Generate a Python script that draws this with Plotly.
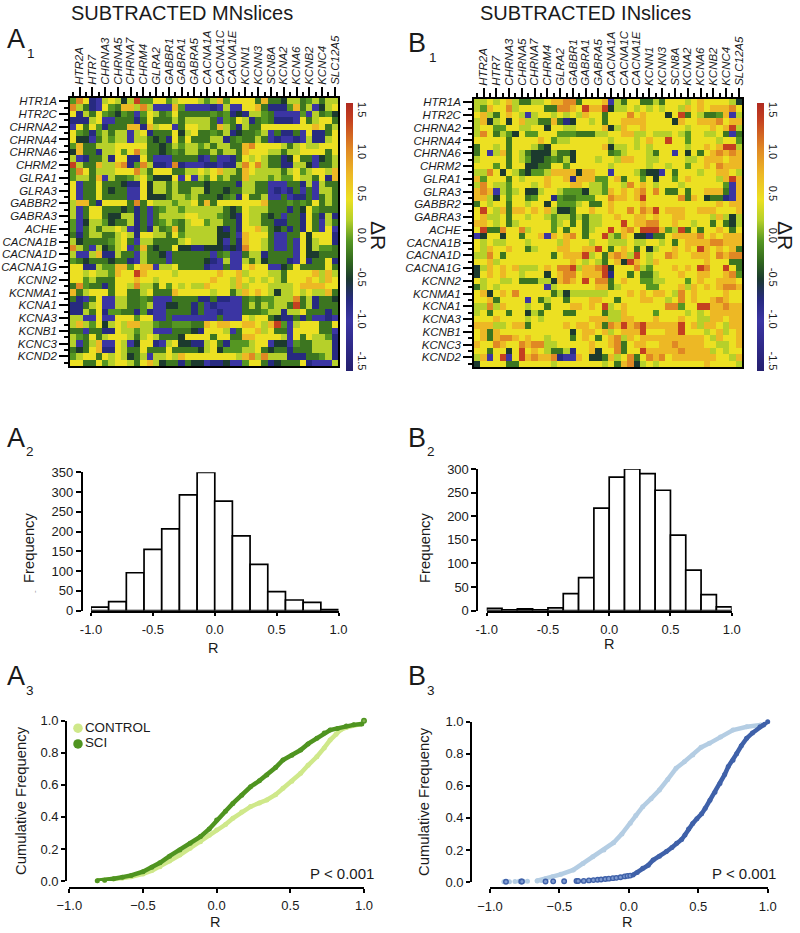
import plotly.graph_objects as go

W, H = 800, 933
FONT = "Liberation Sans"
INK = "#1a1a1a"

GENES = ["HTR1A","HTR2A","HTR2C","HTR7","CHRNA2","CHRNA3","CHRNA4","CHRNA5","CHRNA6","CHRNA7",
         "CHRM2","CHRM4","GLRA1","GLRA2","GLRA3","GABBR1","GABBR2","GABRA1","GABRA3","GABRA5",
         "ACHE","CACNA1A","CACNA1B","CACNA1C","CACNA1D","CACNA1E","CACNA1G","KCNN1","KCNN2","KCNN3",
         "KCNMA1","SCN8A","KCNA1","KCNA2","KCNA3","KCNA6","KCNB1","KCNB2","KCNC3","KCNC4","KCND2","SLC12A5"]

# Delta-R value represented by each digit in the rows below
LEVEL_R = [-1.0, -0.75, -0.5, -0.22, -0.05, 0.2, 0.45, 0.75, 1.05, 1.4]

A1_ROWS = [
"486105 652594 466456 665457 466663 733255 345355",
"853106 437758 500074 000010 500667 311147 350256",
"615364 324304 653463 333343 412155 430000 405342",
"111560 033313 633353 555530 436513 431110 635663",
"063641 333771 756603 665537 531533 666666 667635",
"643145 355056 133362 563343 512334 503113 061136",
"622035 455055 323163 633355 134335 301001 051156",
"473355 566666 332354 554535 533786 666535 655666",
"273315 564685 332343 553353 553766 655355 666636",
"501335 166116 300033 331030 013656 533126 330235",
"953375 578148 511081 000110 115868 533115 520335",
"486355 566685 366633 556567 553765 555356 456657",
"455370 533456 422260 605464 533755 545446 553617",
"603363 332116 255353 333233 331553 300033 150533",
"603363 233006 255353 355233 233553 301013 030553",
"603363 333006 222355 453332 341633 500301 130353",
"577316 666383 655545 563736 666666 733343 436353",
"503663 332313 034554 555555 323655 533313 264333",
"503663 225513 035555 665554 321655 323033 163151",
"402554 233513 034543 566455 331655 331133 163053",
"403535 565013 153473 555552 131667 532313 163060",
"313553 356516 655364 555552 230766 630033 626661",
"523333 456305 533335 655552 031766 530030 625661",
"853052 356037 323362 211222 121866 530030 625443",
"500571 153305 332033 333303 400355 133330 622333",
"432333 233105 333033 333210 500535 233310 613361",
"661154 477467 705563 333100 300676 600236 333363",
"665655 476697 666656 666667 667566 655366 667575",
"664533 366676 656666 666676 657656 565366 676576",
"384331 366585 536465 655766 657566 655556 777766",
"735666 366335 633376 666656 635767 652556 565573",
"310360 055334 300033 331131 100343 445558 351332",
"113560 055334 500223 313010 000353 545539 351333",
"115361 443314 100333 313001 000333 455155 633313",
"550060 066646 600300 000003 000656 632113 130010",
"575462 565775 543344 433767 766776 579405 666336",
"330331 165545 500033 321666 503667 563306 666330",
"543635 666535 653332 666636 633776 666506 365541",
"503570 065026 610562 211563 144456 602204 335551",
"323671 165336 333633 332562 444556 323313 335551",
"456636 565235 055657 666666 665785 855511 133451",
"663364 566536 752331 322011 200466 312333 610005",
]

B1_ROWS = [
"556567 533556 778836 667053 663353 666567 666652",
"547668 566663 388769 779255 656565 665767 677786",
"675367 650566 565657 663666 867666 269365 334705",
"572562 675533 731266 563667 777666 627667 778677",
"566446 655662 665566 667257 667666 666566 676795",
"586354 264466 644433 355667 755655 565466 556303",
"666663 666676 455666 666566 656766 966466 665664",
"366563 666532 666666 667255 656566 666566 767995",
"360573 653222 533266 666345 666536 606263 678787",
"566663 654223 435266 656657 766556 666556 777677",
"666463 662233 664666 666566 666566 566466 768777",
"558626 532445 777727 766066 653220 636665 667765",
"746663 656667 667177 744673 664626 646766 665797",
"586554 666567 666776 554665 867656 665666 666407",
"787054 562256 654442 554767 678686 336366 777307",
"775264 663466 143344 466877 679666 668376 233107",
"365663 665662 644456 336766 667666 666666 667677",
"696573 776767 522366 766766 868796 777667 776667",
"675563 665665 455353 556676 677676 677666 657525",
"776563 566666 456363 556669 677886 676656 636325",
"693386 685666 463663 566967 869997 459363 667636",
"026626 636670 767863 669547 622133 677778 676777",
"656556 665666 657666 566555 655665 636777 788777",
"657667 663566 677667 796367 636256 676769 767673",
"558636 666666 367779 563787 596566 876677 768788",
"667566 666666 666765 653672 976576 666666 766633",
"257676 755567 688957 789266 685466 676769 866963",
"267676 656662 678867 779166 363356 667667 766784",
"656655 633355 278769 688367 664455 666467 667776",
"356566 666660 566666 677356 666446 667576 767887",
"672676 866666 352555 555666 767677 658676 666766",
"667366 660635 663666 776636 667766 568676 678766",
"558576 665663 666776 769567 666666 884669 977877",
"563663 662536 663366 663557 666646 666565 677777",
"666766 665656 666666 777557 766676 667665 577677",
"777556 773666 667677 673879 789777 779675 776577",
"673766 666666 666267 767567 779666 779666 567567",
"673788 767665 666367 636785 767777 777777 657667",
"766876 687885 566666 766783 677667 787777 665567",
"663662 696765 335166 726683 669777 778777 756566",
"570690 697877 810076 223756 836878 677777 776657",
"266663 366666 566666 665637 825656 666666 766665",
]

CBAR_TICKS = [-1.5, -1.0, -0.5, 0.0, 0.5, 1.0, 1.5]
CBAR_LABELS = ["-1.5", "-1.0", "-0.5", "0.0", "0.5", "1.0", "1.5"]

A2_CENTERS = [-0.929,-0.786,-0.643,-0.5,-0.357,-0.214,-0.071,0.071,0.214,0.357,0.5,0.643,0.786,0.929]
A2_COUNTS = [9,23,96,155,207,293,350,277,189,117,48,27,21,3]
B2_CENTERS = [-0.9375,-0.8125,-0.6875,-0.5625,-0.4375,-0.3125,-0.1875,-0.0625,0.0625,0.1875,0.3125,0.4375,0.5625,0.6875,0.8125,0.9375]
B2_COUNTS = [5,2,4,2,6,36,70,217,283,300,290,255,160,86,34,8]

A3_CTRL_R = [-0.81,-0.76,-0.70,-0.64,-0.58,-0.50,-0.44,-0.385,-0.32,-0.25,-0.18,-0.11,-0.05,0.0,0.06,0.11,0.17,0.23,0.29,0.34,0.40,0.45,0.51,0.57,0.62,0.68,0.73,0.77,0.81,0.84,0.88,0.93,0.97]
A3_CTRL_F = [0.002,0.005,0.012,0.018,0.027,0.044,0.065,0.089,0.125,0.162,0.205,0.245,0.285,0.318,0.352,0.391,0.43,0.464,0.487,0.505,0.538,0.578,0.622,0.672,0.722,0.775,0.83,0.879,0.915,0.942,0.958,0.973,0.978]
A3_SCI_R = [-0.81,-0.76,-0.70,-0.64,-0.58,-0.50,-0.44,-0.385,-0.32,-0.25,-0.18,-0.11,-0.05,0.0,0.06,0.11,0.17,0.23,0.29,0.34,0.40,0.45,0.51,0.57,0.62,0.68,0.73,0.77,0.82,0.88,0.93,0.985]
A3_SCI_F = [0.002,0.005,0.014,0.024,0.035,0.058,0.085,0.114,0.155,0.193,0.235,0.277,0.325,0.38,0.435,0.484,0.535,0.588,0.625,0.661,0.708,0.755,0.785,0.817,0.855,0.89,0.923,0.942,0.952,0.967,0.974,0.979]
A3_SCI_END_R = [1.0]
A3_SCI_END_F = [1.0]

B3_CTRL_TAIL_R = [-0.90,-0.86,-0.82,-0.79,-0.76,-0.73,-0.66,-0.63]
B3_CTRL_TAIL_F = [0.002,0.002,0.003,0.004,0.004,0.005,0.007,0.009]
B3_CTRL_R = [-0.66,-0.60,-0.55,-0.49,-0.40,-0.33,-0.26,-0.18,-0.11,-0.05,0.01,0.05,0.10,0.16,0.22,0.28,0.34,0.40,0.46,0.52,0.58,0.66,0.75,0.85,0.95]
B3_CTRL_F = [0.008,0.02,0.033,0.048,0.075,0.115,0.158,0.2,0.245,0.3,0.366,0.415,0.47,0.52,0.574,0.64,0.709,0.75,0.792,0.84,0.865,0.905,0.948,0.968,0.98]
B3_SCI_TAIL_R = [-0.885,-0.775,-0.77,-0.60,-0.545,-0.466,-0.377,-0.365,-0.325,-0.288,-0.255,-0.225,-0.20,-0.17,-0.145,-0.115,-0.09,-0.06,-0.03,-0.01,0.01]
B3_SCI_TAIL_F = [0.002,0.003,0.003,0.003,0.004,0.005,0.006,0.006,0.007,0.01,0.012,0.014,0.016,0.019,0.021,0.024,0.026,0.03,0.035,0.038,0.04]
B3_SCI_R = [0.03,0.06,0.10,0.14,0.175,0.22,0.27,0.31,0.344,0.38,0.404,0.43,0.46,0.49,0.524,0.55,0.584,0.62,0.656,0.69,0.716,0.75,0.776,0.81,0.848,0.89,0.945,0.97,1.0]
B3_SCI_F = [0.044,0.06,0.085,0.105,0.137,0.16,0.19,0.215,0.241,0.265,0.293,0.33,0.365,0.395,0.425,0.46,0.51,0.56,0.615,0.67,0.72,0.76,0.80,0.85,0.896,0.93,0.969,0.98,1.0]

COLORSCALE_STOPS = [(-1.6,"#241f6e"),(-1.0,"#3b35a3"),(-0.75,"#272a80"),(-0.5,"#1c3a2e"),(-0.3,"#30661f"),
                    (-0.05,"#559622"),(0.2,"#b6d02a"),(0.45,"#ece022"),(0.75,"#edb825"),(1.05,"#e08824"),
                    (1.4,"#c44020"),(1.6,"#b02a20")]
COLORSCALE = [[(v + 1.6) / 3.2, c] for v, c in COLORSCALE_STOPS]


def decode(rows):
    out = []
    for r in rows:
        r = r.replace(" ", "")
        assert len(r) == 42, r
        out.append([LEVEL_R[int(ch)] for ch in r])
    return out


def fx(px):
    return px / W


def fy(px):
    return 1 - px / H


fig = go.Figure()
annotations = []


def note(text, x, y, size, angle=0, xanchor="center", color=INK):
    annotations.append(dict(text=text, x=fx(x), y=fy(y), xref="paper", yref="paper", showarrow=False,
                            xanchor=xanchor, yanchor="middle", textangle=angle,
                            font=dict(family=FONT, size=size, color=color)))


def heatmap(rows, n, box, bar_x):
    x0, x1, y0, y1 = box
    fig.add_trace(go.Heatmap(z=decode(rows), x=list(range(42)), y=list(range(42)), zmin=-1.6, zmax=1.6,
                             colorscale=COLORSCALE, xaxis=f"x{n}", yaxis=f"y{n}", hoverongaps=False,
                             colorbar=dict(x=fx(bar_x), xanchor="left", y=fy(103), yanchor="top", len=268,
                                           lenmode="pixels", thickness=7, thicknessmode="pixels", xpad=0, ypad=0,
                                           outlinewidth=0, tickvals=CBAR_TICKS, ticktext=CBAR_LABELS, tickangle=90,
                                           ticks="", ticklen=0,
                                           tickfont=dict(family=FONT, size=11, color=INK))))
    common = dict(ticks="outside", ticklen=9, tickwidth=1.5, tickcolor="#000", showline=True, linecolor="#000",
                  linewidth=1.7, mirror=True, showgrid=False, zeroline=False)
    xvals = list(range(1, 42, 2))
    yvals = list(range(0, 42, 2))
    fig.layout[f"xaxis{n}"] = dict(domain=[fx(x0), fx(x1)], anchor=f"y{n}", side="top", range=[-0.5, 41.5],
                                   tickvals=xvals, ticktext=[GENES[i] for i in xvals], tickangle=-90,
                                   tickfont=dict(family=FONT, size=11.5, color=INK, style="italic"),
                                   minor=dict(tickvals=yvals, ticks="outside", ticklen=4, tickwidth=1.5, tickcolor="#000"),
                                   **common)
    fig.layout[f"yaxis{n}"] = dict(domain=[fy(y1), fy(y0)], anchor=f"x{n}", range=[41.5, -0.5],
                                   tickvals=yvals, ticktext=[GENES[i] for i in yvals],
                                   tickfont=dict(family=FONT, size=11.5, color=INK, style="italic"),
                                   minor=dict(tickvals=xvals, ticks="outside", ticklen=4, tickwidth=1.5, tickcolor="#000"),
                                   **common)


def hist_axes(n, box, y_axis_px, ymax):
    x0, x1, y0, y1 = box
    fig.layout[f"xaxis{n}"] = dict(domain=[fx(x0), fx(x1)], anchor=f"y{n}", range=[-1, 1],
                                   tickvals=[-1, -0.5, 0, 0.5, 1], ticktext=["-1.0", "-0.5", "0.0", "0.5", "1.0"],
                                   ticks="outside", ticklen=3, tickwidth=1.5, tickcolor="#000", showline=True,
                                   linecolor="#000", linewidth=1.7, showgrid=False, zeroline=False,
                                   ticklabelstandoff=3, tickfont=dict(family=FONT, size=13, color=INK))
    fig.layout[f"yaxis{n}"] = dict(domain=[fy(y1), fy(y0)], anchor="free", overlaying=None, position=fx(y_axis_px),
                                   range=[0, ymax], tick0=0, dtick=50, ticks="outside", ticklen=5, tickwidth=1.5,
                                   tickcolor="#000", showline=True, linecolor="#000", linewidth=1.7, showgrid=False,
                                   zeroline=False, tickfont=dict(family=FONT, size=13, color=INK))


def cdf_axes(n, box, y_axis_px, x_axis_py):
    x0, x1, y0, y1 = box
    fig.layout[f"xaxis{n}"] = dict(domain=[fx(x0), fx(x1)], anchor="free", position=fy(x_axis_py), range=[-1, 1],
                                   tickvals=[-1, -0.5, 0, 0.5, 1],
                                   ticktext=["\u22121.0", "\u22120.5", "0.0", "0.5", "1.0"],
                                   ticks="outside", ticklen=4, tickwidth=1.5, tickcolor="#000", showline=True,
                                   linecolor="#000", linewidth=1.7, showgrid=False, zeroline=False,
                                   ticklabelstandoff=2, tickfont=dict(family=FONT, size=13, color=INK))
    fig.layout[f"yaxis{n}"] = dict(domain=[fy(y1), fy(y0)], anchor="free", position=fx(y_axis_px), range=[0, 1],
                                   tick0=0, dtick=0.2, tickformat=".1f", ticks="outside", ticklen=4, tickwidth=1.5,
                                   tickcolor="#000", showline=True, linecolor="#000", linewidth=1.7, showgrid=False,
                                   zeroline=False, tickfont=dict(family=FONT, size=13, color=INK))


def curve(n, xs, ys, color, name, lines=True, ring=None):
    fig.add_trace(go.Scatter(x=xs, y=ys, name=name, xaxis=f"x{n}", yaxis=f"y{n}", showlegend=False, cliponaxis=False,
                             mode="lines+markers" if lines else "markers",
                             line=dict(color=color, width=4.5),
                             marker=dict(color=ring or color, size=5 if not ring else 4.5,
                                         line=dict(color=color, width=1.4 if ring else 0))))


def key(n, x, y, label, color):
    fig.add_trace(go.Scatter(x=[x], y=[y], xaxis=f"x{n}", yaxis=f"y{n}", mode="markers+text", name=label, text=[label],
                             textposition="middle right", cliponaxis=False, showlegend=False,
                             marker=dict(color=color, size=9.5),
                             textfont=dict(family=FONT, size=13.4, color=INK)))


# ---- heatmaps
heatmap(A1_ROWS, 1, (70, 338, 98, 366), 346)
heatmap(B1_ROWS, 2, (474, 742, 99, 367), 757)

# ---- histograms
fig.add_trace(go.Bar(x=A2_CENTERS, y=A2_COUNTS, width=2 / 14, xaxis="x3", yaxis="y3", cliponaxis=False, showlegend=False,
                     marker=dict(color="#fff", line=dict(color="#000", width=1.7))))
hist_axes(3, (91, 338.5, 472.3, 610.7), 81.7, 350)
fig.add_trace(go.Bar(x=B2_CENTERS, y=B2_COUNTS, width=0.125, xaxis="x4", yaxis="y4", cliponaxis=False, showlegend=False,
                     marker=dict(color="#fff", line=dict(color="#000", width=1.7))))
hist_axes(4, (486.7, 731.7, 469, 610.7), 477.3, 300)

# ---- cumulative curves
GREEN_L, GREEN_D = "#cfe88a", "#4f9420"
BLUE_L, BLUE_D = "#b4cde3", "#3f61a9"
cdf_axes(5, (69.3, 364, 720.7, 881), 66, 887.7)
curve(5, A3_CTRL_R, A3_CTRL_F, GREEN_L, "CONTROL")
curve(5, A3_SCI_R, A3_SCI_F, GREEN_D, "SCI")
curve(5, A3_SCI_END_R, A3_SCI_END_F, GREEN_D, "SCI", lines=False, ring="#7fb04e")
key(5, -0.941, 0.953, "CONTROL", GREEN_L)
key(5, -0.941, 0.855, "SCI", GREEN_D)

cdf_axes(6, (490, 767.7, 721.7, 882), 471, 888.3)
curve(6, B3_CTRL_TAIL_R, B3_CTRL_TAIL_F, BLUE_L, "CONTROL", lines=False)
curve(6, B3_CTRL_R, B3_CTRL_F, BLUE_L, "CONTROL")
curve(6, B3_SCI_TAIL_R, B3_SCI_TAIL_F, BLUE_D, "SCI", lines=False, ring="#7f9bd0")
curve(6, B3_SCI_R, B3_SCI_F, BLUE_D, "SCI")
key(6, -1.024, 0.965, "CONTROL", BLUE_L)
key(6, -1.024, 0.865, "SCI", BLUE_D)

# ---- free text
note("SUBTRACTED MNslices", 182, 13, 20)
note("SUBTRACTED INslices", 585, 13, 20)
note("\u0394R", 379, 235, 21, angle=90)
note("\u0394R", 786, 235, 21, angle=90)

for big, sub, bx, sx, by, sy in [("A", "1", 5, 25, 39, 53), ("B", "1", 406, 427, 43, 57),
                                 ("A", "2", 5, 24, 438, 451), ("B", "2", 406, 425, 438, 451),
                                 ("A", "3", 5, 24, 676, 690), ("B", "3", 406, 425, 676, 690)]:
    note(big, bx, by, 27, xanchor="left")
    note(sub, sx, sy, 13.5, xanchor="left")

note("R", 213, 648, 14.5)
note("R", 609, 644, 14.5)
note("R", 215, 922, 14.5)
note("R", 627, 922, 14.5)
note("Frequency", 29, 547, 14.8, angle=-90)
note("Frequency", 425, 548, 14.8, angle=-90)
note("-", 34, 592, 8, angle=-90, color="#888")
note("Cumulative Frequency", 21, 801, 14.8, angle=-90)
note("Cumulative Frequency", 424, 802, 14.8, angle=-90)
note("P &lt; 0.001", 376, 873, 15, xanchor="right")
note("P &lt; 0.001", 778, 873, 15, xanchor="right")

fig.update_layout(width=W, height=H, autosize=False, margin=dict(l=0, r=0, t=0, b=0, autoexpand=False),
                  paper_bgcolor="#fff", plot_bgcolor="#fff", showlegend=False, annotations=annotations,
                  barmode="overlay", font=dict(family=FONT, color=INK))

fig.write_html("out.html", config={"displayModeBar": False},
               post_script="document.body.style.margin='0';document.body.style.overflow='hidden';")
